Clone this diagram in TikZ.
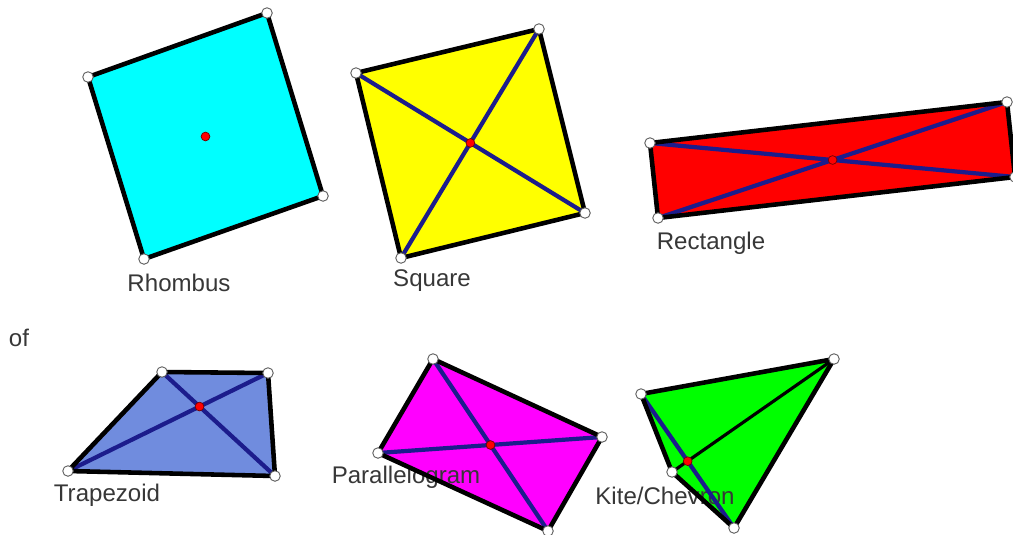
\documentclass[tikz,border=0pt]{standalone}
\usepackage{fontspec}
\setmainfont{Liberation Sans}
\usetikzlibrary{positioning}
\definecolor{diagblue}{RGB}{28,28,140}
\definecolor{trapblue}{RGB}{112,140,222}
\definecolor{rhombcyan}{RGB}{0,255,255}
\definecolor{paramagenta}{RGB}{255,0,255}
\definecolor{kitegreen}{RGB}{0,255,0}
\definecolor{rectred}{RGB}{255,0,0}
\definecolor{sqyellow}{RGB}{255,255,0}
\definecolor{labelgray}{RGB}{55,55,55}

\tikzset{
  edge/.style={draw=black,line width=2.6pt,line join=round},
  diag/.style={draw=diagblue,line width=2.4pt},
  vertex/.style={circle,draw=gray!70!black,fill=white,inner sep=0pt,minimum size=6pt,line width=0.5pt},
  centre/.style={circle,draw=red!45!black,fill=red,inner sep=0pt,minimum size=5pt,line width=0.4pt},
  shapelabel/.style={text=labelgray,font=\fontsize{13.7}{16}\selectfont,inner sep=0pt},
}

\begin{document}
\begin{tikzpicture}[x=0.02cm,y=-0.02cm]
    \useasboundingbox (0,0) rectangle (1013,534);

    % Corners
    \coordinate (rh1) at (88,77);   \coordinate (rh2) at (267,13);
    \coordinate (rh3) at (323,196); \coordinate (rh4) at (144,259);
    \coordinate (sq1) at (356,73);  \coordinate (sq2) at (539,29);
    \coordinate (sq3) at (585,213); \coordinate (sq4) at (401,258);
    \coordinate (re1) at (650,143); \coordinate (re2) at (1007,102);
    \coordinate (re3) at (1015,177);\coordinate (re4) at (658,218);
    \coordinate (tr1) at (162,372); \coordinate (tr2) at (268,373);
    \coordinate (tr3) at (275,476); \coordinate (tr4) at (68,471);
    \coordinate (pa1) at (433,359); \coordinate (pa2) at (602,437);
    \coordinate (pa3) at (548,531); \coordinate (pa4) at (378,453);
    \coordinate (ki1) at (641,394); \coordinate (ki2) at (834,359);
    \coordinate (ki3) at (734,528); \coordinate (ki4) at (672,472);

    % Fills
    \fill[rhombcyan] (rh1) -- (rh2) -- (rh3) -- (rh4) -- cycle;
    \fill[sqyellow] (sq1) -- (sq2) -- (sq3) -- (sq4) -- cycle;
    \fill[rectred] (re1) -- (re2) -- (re3) -- (re4) -- cycle;
    \fill[trapblue] (tr1) -- (tr2) -- (tr3) -- (tr4) -- cycle;
    \fill[paramagenta] (pa1) -- (pa2) -- (pa3) -- (pa4) -- cycle;
    \fill[kitegreen] (ki1) -- (ki2) -- (ki3) -- (ki4) -- cycle;

    % Labels
    \node[shapelabel] (lrh) at (179,283) {Rhombus};
    \node[shapelabel] (lsq) at (432,281) {Square};
    \node[shapelabel] (lre) at (711,243) {Rectangle};
    \node[shapelabel] (lof) at (19,338) {of};
    \node[shapelabel] (ltr) at (107,495) {Trapezoid};
    \node[shapelabel] (lpa) at (406,477) {Parallelogram};
    \node[shapelabel] (lki) at (665,496) {Kite/Chevron};

    % Diagonals
    \draw[diag] (sq1) -- (sq3) (sq2) -- (sq4);
    \draw[diag] (re1) -- (re3) (re2) -- (re4);
    \draw[diag] (tr1) -- (tr3) (tr2) -- (tr4);
    \draw[diag] (pa1) -- (pa3) (pa2) -- (pa4);
    \draw[diag] (ki1) -- (ki3);
    \draw[draw=black,line width=1.8pt] (ki2) -- (ki4);

    % Sides
    \draw[edge] (rh1) -- (rh2) -- (rh3) -- (rh4) -- cycle;
    \draw[edge] (sq1) -- (sq2) -- (sq3) -- (sq4) -- cycle;
    \draw[edge] (re1) -- (re2) -- (re3) -- (re4) -- cycle;
    \draw[edge] (tr1) -- (tr2) -- (tr3) -- (tr4) -- cycle;
    \draw[edge] (pa1) -- (pa2) -- (pa3) -- (pa4) -- cycle;
    \draw[edge] (ki1) -- (ki2) -- (ki3) -- (ki4) -- cycle;

    % Centres
    \node[centre] (crh) at (205.5,136.5) {};
    \node[centre] (csq) at (intersection of sq1--sq3 and sq2--sq4) {};
    \node[centre] (cre) at (intersection of re1--re3 and re2--re4) {};
    \node[centre] (ctr) at (intersection of tr1--tr3 and tr2--tr4) {};
    \node[centre] (cpa) at (intersection of pa1--pa3 and pa2--pa4) {};
    \node[centre] (cki) at (intersection of ki1--ki3 and ki2--ki4) {};

    % Points
    \foreach \q in {rh,sq,re,tr,pa,ki}
      \foreach \i in {1,...,4}
        \node[vertex] at (\q\i) {};
\end{tikzpicture}
\end{document}
